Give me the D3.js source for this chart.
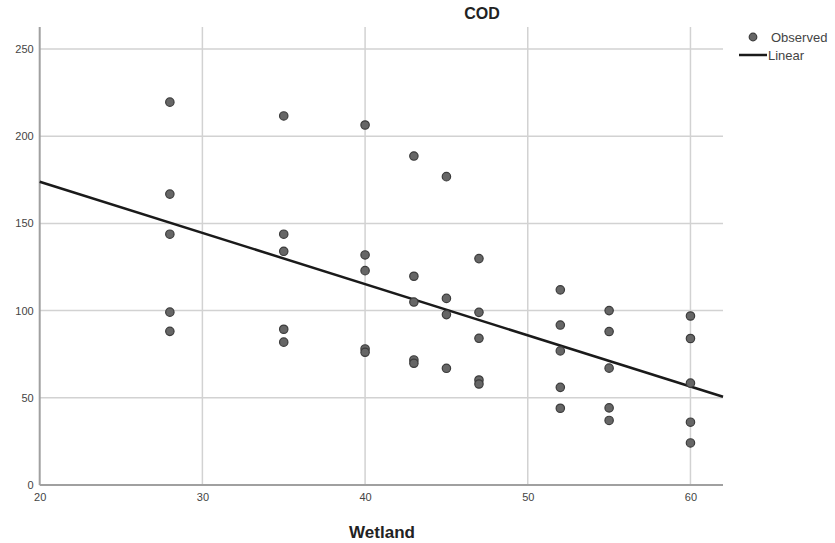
<!DOCTYPE html>
<html>
<head>
<meta charset="utf-8">
<script src="https://cdn.jsdelivr.net/npm/d3@7"></script>
<style>
  html, body { margin: 0; padding: 0; background: #fff; }
  svg { display: block; font-family: Arial, "Liberation Sans", sans-serif; }
</style>
</head>
<body>
<svg id="chart" width="835" height="543"></svg>
<script>
// ---- Data ----
const wetland = [
  28, 28, 28, 28, 28,
  35, 35, 35, 35, 35,
  40, 40, 40, 40, 40,
  43, 43, 43, 43, 43,
  45, 45, 45, 45,
  47, 47, 47, 47, 47,
  52, 52, 52, 52, 52,
  55, 55, 55, 55, 55,
  60, 60, 60, 60, 60
];
const cod = [
  219.5, 166.8, 143.8, 99.1, 88.1,
  211.6, 143.8, 134.0, 89.3, 81.9,
  206.4, 131.9, 122.9, 78.0, 76.1,
  188.6, 119.7, 104.9, 71.7, 69.8,
  176.8, 107.0, 97.7, 66.9,
  129.8, 99.0, 84.1, 60.2, 57.9,
  111.9, 91.7, 76.9, 56.0, 44.0,
  100.0, 88.0, 67.0, 44.2, 37.0,
  96.9, 84.0, 58.4, 36.0, 24.1
];
const linearX = [20, 62];
const linearY = [173.9, 50.6];
const xTicks = [20, 30, 40, 50, 60];
const yTicks = [0, 50, 100, 150, 200, 250];
const title = "COD";
const xLabel = "Wetland";
const legendLabels = ["Observed", "Linear"];

// ---- Layout ----
const svg = d3.select("#chart");
const pLeft = 39.7, pRight = 723, pTop = 27, pBottom = 485;
const x = d3.scaleLinear().domain([20, 62]).range([pLeft, pRight]);
const y = d3.scaleLinear().domain([0, 262.6]).range([pBottom, pTop]);

const gridColor = "#d2d2d2";
const textColor = "#444";

// gridlines
svg.append("g").selectAll("line").data(xTicks.filter(d => d > 20)).join("line")
  .attr("x1", d => x(d)).attr("x2", d => x(d))
  .attr("y1", pTop).attr("y2", pBottom)
  .attr("stroke", gridColor).attr("stroke-width", 1.5);
svg.append("g").selectAll("line").data(yTicks.filter(d => d > 0)).join("line")
  .attr("x1", pLeft).attr("x2", pRight)
  .attr("y1", d => y(d)).attr("y2", d => y(d))
  .attr("stroke", gridColor).attr("stroke-width", 1.5);

// axes
const xAxis = d3.axisBottom(x).tickValues(xTicks).tickSize(0).tickPadding(8);
const yAxis = d3.axisLeft(y).tickValues(yTicks).tickSize(0).tickPadding(6);
const gx = svg.append("g").attr("transform", `translate(0,${pBottom})`).call(xAxis);
const gy = svg.append("g").attr("transform", `translate(${pLeft},0)`).call(yAxis);
[gx, gy].forEach(g => {
  g.select(".domain").attr("stroke", "#a0a0a0").attr("stroke-width", 2);
  g.selectAll("text").attr("fill", textColor).attr("font-size", 11)
    .attr("font-family", "Arial, 'Liberation Sans', sans-serif");
});
gy.select(".domain").attr("d", `M0,${pTop}V${pBottom}`);
gx.select(".domain").attr("d", `M${pLeft},0H${pRight}`);

// regression line
svg.append("line")
  .attr("x1", x(linearX[0])).attr("y1", y(linearY[0]))
  .attr("x2", x(linearX[1])).attr("y2", y(linearY[1]))
  .attr("stroke", "#1a1a1a").attr("stroke-width", 2.5);

// points
svg.append("g").selectAll("circle").data(d3.range(wetland.length)).join("circle")
  .attr("cx", i => x(wetland[i])).attr("cy", i => y(cod[i]))
  .attr("r", 4.2)
  .attr("fill", "#666").attr("stroke", "#3c3c3c").attr("stroke-width", 1.2);

// title & axis label
svg.append("text").attr("x", 482).attr("y", 19).attr("text-anchor", "middle")
  .attr("font-weight", "bold").attr("font-size", 16).attr("fill", "#222").text(title);
svg.append("text").attr("x", 382).attr("y", 538).attr("text-anchor", "middle")
  .attr("font-weight", "bold").attr("font-size", 17).attr("fill", "#222").text(xLabel);

// legend
const lg = svg.append("g");
lg.append("circle").attr("cx", 753).attr("cy", 37).attr("r", 3.8)
  .attr("fill", "#666").attr("stroke", "#3c3c3c").attr("stroke-width", 1.2);
lg.append("text").attr("x", 771).attr("y", 42).attr("font-size", 13).attr("fill", textColor)
  .text(legendLabels[0]);
lg.append("line").attr("x1", 739).attr("x2", 767).attr("y1", 55).attr("y2", 55)
  .attr("stroke", "#1a1a1a").attr("stroke-width", 2.5);
lg.append("text").attr("x", 768).attr("y", 60).attr("font-size", 13).attr("fill", textColor)
  .text(legendLabels[1]);
</script>
</body>
</html>
